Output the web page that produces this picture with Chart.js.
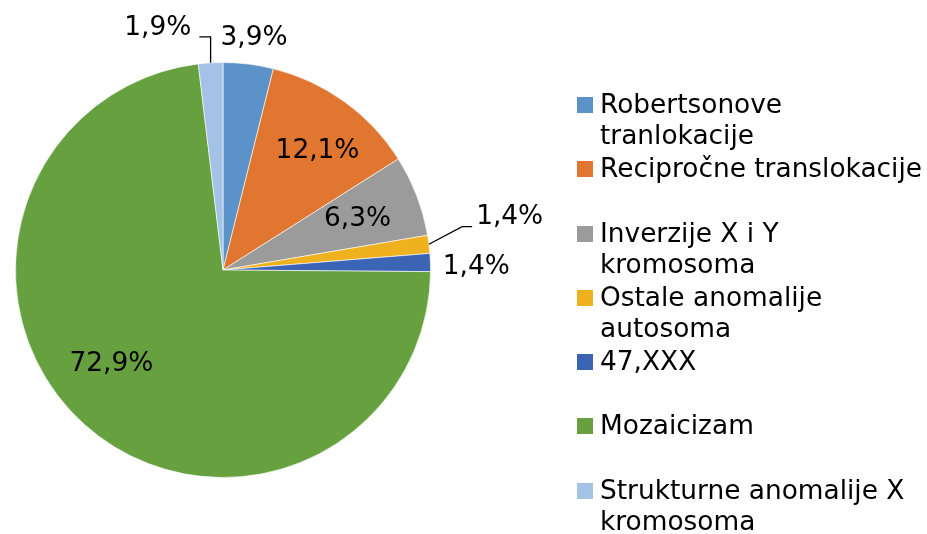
<!DOCTYPE html>
<html>
<head>
<meta charset="utf-8">
<script src="https://cdn.jsdelivr.net/npm/chart.js@4/dist/chart.umd.min.js"></script>
<style>
  html, body { margin: 0; padding: 0; background: #fff; }
  body { width: 927px; height: 534px; position: relative; overflow: hidden;
         font-family: "DejaVu Sans", Verdana, sans-serif; }
  #wrap { position: absolute; left: 0; top: 0; width: 927px; height: 534px; }
  #legend { position: absolute; left: 577px; top: 88px; margin: 0; padding: 0; list-style: none;
            font-size: 26.4px; line-height: 31px; color: #000; }
  #legend li { position: relative; padding-left: 23px; height: 64.3px; }
  #legend li span.box { position: absolute; left: 0; top: 9px; width: 16px; height: 16px; }
</style>
</head>
<body>
<div id="wrap"><canvas id="pie"></canvas></div>
<ul id="legend"></ul>
<script>
const categories = [
  'Robertsonove tranlokacije',
  'Recipročne translokacije',
  'Inverzije X i Y kromosoma',
  'Ostale anomalije autosoma',
  '47,XXX',
  'Mozaicizam',
  'Strukturne anomalije X kromosoma'
];
// legend lines as they wrap in the reference
const legendLines = [
  ['Robertsonove', 'tranlokacije'],
  ['Recipročne translokacije'],
  ['Inverzije X i Y', 'kromosoma'],
  ['Ostale anomalije', 'autosoma'],
  ['47,XXX'],
  ['Mozaicizam'],
  ['Strukturne anomalije X', 'kromosoma']
];
const percents = [3.9, 12.1, 6.3, 1.4, 1.4, 72.9, 1.9];
const colors = ['#5B92C8', '#E0762F', '#9B9B9B', '#F0B11E', '#3B64B4', '#66A03F', '#A3C2E6'];

// label placement (layout only)
const labelInside = [false, true, true, false, false, true, false];
const labelNudge = [[2, 4], [7, 2], [-5, 3], [51, -23], [16, 6], [-12, -17], [-51, -5]];
const labelLeader = [false, false, false, true, false, false, true];

const fmt = v => v.toFixed(1).replace('.', ',') + '%';

const pieLabels = {
  id: 'pieLabels',
  afterDatasetsDraw(chart) {
    const ctx = chart.ctx;
    const meta = chart.getDatasetMeta(0);
    ctx.save();
    ctx.font = '26.4px "DejaVu Sans", Verdana, sans-serif';
    ctx.fillStyle = '#000';
    ctx.textAlign = 'center';
    ctx.textBaseline = 'middle';
    meta.data.forEach((arc, i) => {
      const p = arc.getProps(['x', 'y', 'startAngle', 'endAngle', 'outerRadius'], true);
      const mid = (p.startAngle + p.endAngle) / 2;
      const dist = labelInside[i] ? p.outerRadius * 0.72 : p.outerRadius + 30;
      const lx = p.x + Math.cos(mid) * dist + labelNudge[i][0];
      const ly = p.y + Math.sin(mid) * dist + labelNudge[i][1];
      const text = fmt(percents[i]);
      ctx.fillText(text, lx, ly);
      if (labelLeader[i]) {
        const w = ctx.measureText(text).width;
        const ex = p.x + Math.cos(mid) * p.outerRadius;
        const ey = p.y + Math.sin(mid) * p.outerRadius;
        let endX, elbowX;
        const endY = ly + 9;
        if (lx > ex) {
          endX = lx - w / 2 - 4;
          elbowX = endX - 10;
        } else {
          endX = lx + w / 2 + 8;
          elbowX = ex;
        }
        ctx.beginPath();
        ctx.strokeStyle = '#000';
        ctx.lineWidth = 1.3;
        ctx.moveTo(ex, ey);
        ctx.lineTo(elbowX, endY);
        ctx.lineTo(endX, endY);
        ctx.stroke();
      }
    });
    ctx.restore();
  }
};

new Chart(document.getElementById('pie'), {
  type: 'pie',
  data: {
    labels: categories,
    datasets: [{
      data: percents,
      backgroundColor: colors,
      borderColor: 'rgba(255,255,255,0.6)',
      borderWidth: 1
    }]
  },
  options: {
    responsive: true,
    maintainAspectRatio: false,
    animation: false,
    layout: { padding: { top: 62, bottom: 56, left: 15, right: 496 } },
    plugins: {
      legend: { display: false },
      tooltip: { enabled: false }
    }
  },
  plugins: [pieLabels]
});

// legend
const legend = document.getElementById('legend');
legendLines.forEach((lines, i) => {
  const li = document.createElement('li');
  const box = document.createElement('span');
  box.className = 'box';
  box.style.background = colors[i];
  li.appendChild(box);
  lines.forEach((t, k) => {
    if (k) li.appendChild(document.createElement('br'));
    li.appendChild(document.createTextNode(t));
  });
  legend.appendChild(li);
});
</script>
</body>
</html>
